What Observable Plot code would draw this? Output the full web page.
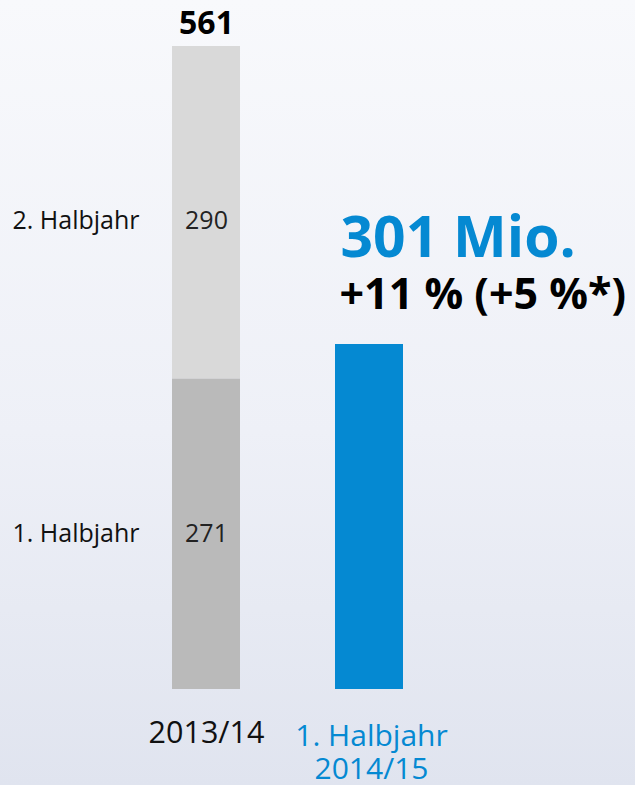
<!DOCTYPE html>
<html>
<head>
<meta charset="utf-8">
<script src="https://cdn.jsdelivr.net/npm/d3@7"></script>
<script src="https://cdn.jsdelivr.net/npm/@observablehq/plot@0.6"></script>
<style>
  html, body { margin: 0; padding: 0; }
  body {
    width: 635px; height: 785px; overflow: hidden;
    background: linear-gradient(to bottom, #f8f9fc 0%, #eef0f7 55%, #e0e4ef 100%);
    font-family: "Open Sans", sans-serif;
  }
</style>
</head>
<body>
<div id="chart"></div>
<script>
// ---- data ----
const categories = ["2013/14", "1. Halbjahr\n2014/15"];
const halves = ["1. Halbjahr", "2. Halbjahr"];
const values201314 = [271, 290];
const values201415 = [301];
const total201314 = 561;
const headline = "301 Mio.";
const growth = "+11 % (+5 %*)";
const seriesKeys = ["2013/14 H1", "2013/14 H2", "2014/15 H1"];

// ---- table ----
const rows = [
  ...values201314.map((v, i) => ({cat: categories[0], half: halves[i], key: seriesKeys[i], value: v})),
  ...values201415.map((v, i) => ({cat: categories[1], half: halves[i], key: seriesKeys[2 + i], value: v}))
];
const rows1314 = rows.filter(d => d.cat === categories[0]);
const rows1415 = rows.filter(d => d.cat === categories[1]);

const blue = "#0589d2";
const font = "'Open Sans', sans-serif";

function segLabels(dy, half) {
  const keep = d => d.half === half;
  return [
    Plot.text(rows1314, Plot.stackY({x: "cat", y: "value", z: "key", order: seriesKeys,
      text: d => keep(d) ? String(d.value) : "", fontSize: 25, fill: "#222", lineAnchor: "middle", dy})),
    Plot.text(rows1314, Plot.stackY({y: "value", z: "key", order: seriesKeys,
      text: d => keep(d) ? d.half : "", frameAnchor: "left", textAnchor: "start", dx: 12, dy,
      fontSize: 25, fill: "#111", lineAnchor: "middle"}))
  ];
}

const chart = Plot.plot({
  width: 635,
  height: 785,
  marginTop: 46,
  marginBottom: 96,
  marginLeft: 0,
  marginRight: 0,
  style: {background: "transparent", fontFamily: font, overflow: "visible"},
  x: {domain: categories, range: [171, 403], paddingInner: 0.585, paddingOuter: 0, axis: null},
  y: {domain: [0, total201314], axis: null},
  color: {domain: seriesKeys, range: ["#bababa", "#d9d9d9", blue]},
  marks: [
    Plot.barY(rows, Plot.stackY({x: "cat", y: "value", fill: "key", order: seriesKeys})),
    ...segLabels(0, halves[0]),
    ...segLabels(8, halves[1]),
    // total on top
    Plot.text([{cat: categories[0], total: total201314}], {x: "cat", y: "total", text: d => String(d.total),
      fontSize: 32, fontWeight: "bold", fill: "#000", lineAnchor: "bottom", dy: -13}),
    // headline for 2014/15
    Plot.text(rows1415, {x: "cat", y: "value", text: () => headline, textAnchor: "start", dx: -29, dy: -88,
      fontSize: 57, fontWeight: "bold", fill: blue, lineAnchor: "bottom"}),
    Plot.text(rows1415, {x: "cat", y: "value", text: () => growth, textAnchor: "start", dx: -30, dy: -36,
      fontSize: 43, fontWeight: "bold", fill: "#000", lineAnchor: "bottom"}),
    // category labels under bars
    Plot.text([categories[0]], {x: d => d, y: () => 0, text: d => d, lineAnchor: "top", dy: 32,
      fontSize: 30.5, fill: "#111"}),
    Plot.text([categories[1]], {x: d => d, y: () => 0, text: d => d, lineAnchor: "top", dy: 32, dx: 2,
      fontSize: 30, fill: blue, lineHeight: 1.13})
  ]
});
document.getElementById("chart").appendChild(chart);
</script>
</body>
</html>
